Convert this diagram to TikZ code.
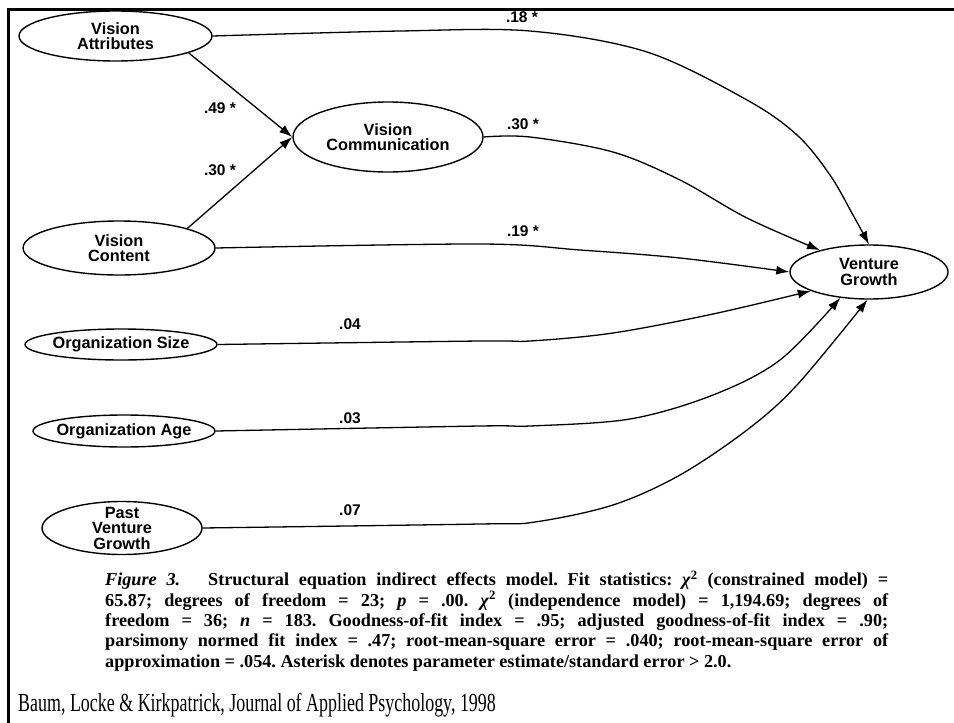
\documentclass[tikz,border=0pt]{standalone}
\usepackage{fontspec}
\setmainfont{Liberation Serif}
\newfontfamily\diagfont{Liberation Sans}
\usetikzlibrary{shapes.geometric,arrows.meta}
\begin{document}
\frenchspacing
\begin{tikzpicture}[x=1pt,y=-1pt,
  vtext/.style={font=\diagfont\bfseries\fontsize{16.3}{15.5}\selectfont, align=center, inner sep=0pt},
  var/.style n args={3}{ellipse, draw, line width=1.4pt, inner sep=0pt,
      minimum width=#1pt, minimum height=#2pt, label={[vtext]center:#3}},
  lbl/.style={font=\diagfont\bfseries\fontsize{15.5}{15.5}\selectfont, inner sep=0pt},
  arr/.style={-{Latex[length=13pt,width=9pt]}, line width=1.3pt},
  sm/.style={smooth, tension=0.55}]
\useasboundingbox (0,0) rectangle (954,723);
\draw[line width=3pt] (954,9) -- (8.5,9) -- (8.5,723);

% variables
\node[var={193}{50}{Vision\\Attributes}] (va) at (115.5,36) {};
\node[var={190}{70}{Vision\\Communication}] (vcomm) at (388,137) {};
\node[var={192}{54}{Vision\\Content}] (vcont) at (119,248) {};
\node[var={158}{54}{Venture\\Growth}] (vg) at (869,272) {};
\node[var={192}{31}{Organization Size}] (os) at (121,344.5) {};
\node[var={182}{32}{Organization Age}] (oa) at (124,431) {};
\node[var={160}{53}{Past\\Venture\\Growth}] (pvg) at (122,528) {};

% paths
\draw[arr] (va.-13) -- (vcomm.west);
\draw[arr] (vcont.16) -- (vcomm.west);
\draw[arr] plot[sm] coordinates {(va.east) (400,31) (530,31) (647,52) (747,100) (797,135) (830,175) (853,215) (vg.north)};
\draw[arr] plot[sm] coordinates {(vcomm.east) (530,137) (613,152) (680,180) (747,218) (vg.156)};
\draw[arr] plot[sm] coordinates {(vcont.east) (480,244) (580,250) (680,258) (vg.west)};
\draw[arr] plot[sm] coordinates {(os.east) (480,341) (530,341) (613,333) (713,314) (vg.198)};
\draw[arr] plot[sm] coordinates {(oa.east) (480,426) (530,426) (630,419) (713,395) (780,360) (vg.222)};
\draw[arr] plot[sm] coordinates {(pvg.east) (480,524) (535,522) (613,505) (680,475) (747,430) (797,385) (vg.-93)};

% labels
\node[lbl] (l1) at (220,108) {.49 *};
\node[lbl] (l2) at (220,170) {.30 *};
\node[lbl] (l3) at (522,17) {.18 *};
\node[lbl] (l4) at (523,124) {.30 *};
\node[lbl] (l5) at (523,231) {.19 *};
\node[lbl] (l6) at (350,324) {.04};
\node[lbl] (l7) at (350,418) {.03};
\node[lbl] (l8) at (350,510) {.07};

% caption
\node[anchor=north west, inner sep=0pt, align=left,
      font=\bfseries\fontsize{18.2}{20.3}\selectfont] (cap) at (105,571) {%
\makebox[783pt][s]{\textit{Figure 3.}\quad\ Structural equation indirect effects model. Fit statistics: \textit{χ}\textsuperscript{2} (constrained model) =}\\
\makebox[783pt][s]{65.87; degrees of freedom = 23; \textit{p} = .00. \textit{χ}\textsuperscript{2} (independence model) = 1,194.69; degrees of}\\
\makebox[783pt][s]{freedom = 36; \textit{n} = 183. Goodness-of-fit index = .95; adjusted goodness-of-fit index = .90;}\\
\makebox[783pt][s]{parsimony normed fit index = .47; root-mean-square error = .040; root-mean-square error of}\\
approximation = .054. Asterisk denotes parameter estimate/standard error > 2.0.};
\node[anchor=base west, inner sep=0pt, font=\fontsize{26}{26}\selectfont] (src) at (18,711)
  {\scalebox{0.69}[1]{Baum, Locke \& Kirkpatrick, Journal of Applied Psychology, 1998}};
\end{tikzpicture}
\end{document}
